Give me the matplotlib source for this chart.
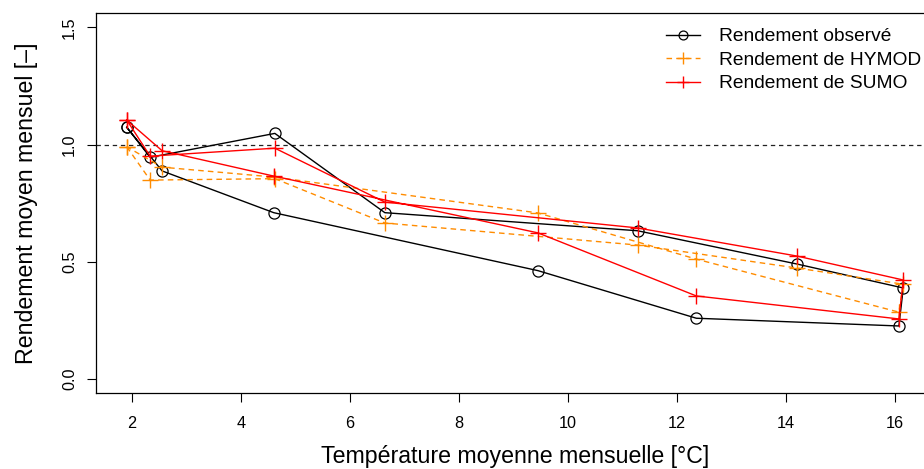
import numpy as np
import matplotlib
matplotlib.use("Agg")
import matplotlib.pyplot as plt

plt.rcParams['font.family'] = ['Liberation Sans', 'DejaVu Sans']

# Monthly means (Jan..Dec)
temperature = [1.90, 2.33, 4.62, 6.64, 11.28, 14.21, 16.16, 16.08, 12.36, 9.45, 4.60, 2.55]
rend_obs = [1.074, 0.946, 1.048, 0.710, 0.633, 0.491, 0.389, 0.227, 0.260, 0.463, 0.710, 0.888]
rend_hymod = [0.991, 0.849, 0.855, 0.666, 0.572, 0.474, 0.405, 0.286, 0.512, 0.709, 0.862, 0.904]
rend_sumo = [1.105, 0.951, 0.985, 0.755, 0.645, 0.525, 0.423, 0.257, 0.355, 0.624, 0.866, 0.974]
labels = ["Rendement observé", "Rendement de HYMOD", "Rendement de SUMO"]
x_ticks = [2, 4, 6, 8, 10, 12, 14, 16]
y_ticks = [0.0, 0.5, 1.0, 1.5]

W, H = 924, 469
fig = plt.figure(figsize=(W / 100, H / 100), dpi=100)

left_px, right_px, top_px, bot_px = 95.7, 934.3, 13.3, 393.3
ax = fig.add_axes([left_px / W, 1 - bot_px / H, (right_px - left_px) / W, (bot_px - top_px) / H])

def closed(v):
    return np.append(v, v[0])

t = closed(temperature)
ax.axhline(1.0, color='#222222', lw=0.9, linestyle=(0, (3.5, 3)), zorder=1)
ax.plot(t, closed(rend_obs), color='black', lw=1.0, marker='o', markersize=8,
        markerfacecolor='none', markeredgewidth=0.9, label=labels[0], zorder=2)
ax.plot(t, closed(rend_hymod), color='#FF8C00', lw=1.0, linestyle=(0, (4, 3)), marker='+',
        markersize=11, markeredgewidth=1.0, label=labels[1], zorder=3)
ax.plot(t, closed(rend_sumo), color='#FF0000', lw=1.0, marker='+', markersize=11,
        markeredgewidth=1.0, label=labels[2], zorder=4)

ax.set_xlim(1.33, 16.73)
ax.set_ylim(-0.06, 1.56)
ax.set_xticks(x_ticks)
ax.set_xticklabels([str(v) for v in x_ticks])
ax.set_yticks(y_ticks)
ax.set_yticklabels([f"{v:.1f}" for v in y_ticks], rotation=90, va='center')
ax.tick_params(axis='both', direction='out', length=6.5, width=0.8, labelsize=11.7, colors='black')
ax.tick_params(axis='x', pad=10)
ax.tick_params(axis='y', pad=7)
for s in ax.spines.values():
    s.set_linewidth(0.9)
    s.set_color('black')

fig.text(515 / W, 1 - 456 / H, "Température moyenne mensuelle [°C]", ha='center', va='center', fontsize=16.7)
fig.text(27 / W, 1 - 203 / H, "Rendement moyen mensuel [–]", ha='center', va='center', rotation=90, fontsize=16.7)

leg = ax.legend(loc='upper left', bbox_to_anchor=(666 / W, 1 - 28 / H), bbox_transform=fig.transFigure,
                frameon=False, fontsize=13.75, handlelength=1.8, handletextpad=1.0,
                labelspacing=0.32, borderpad=0, borderaxespad=0, markerscale=0.8)

fig.savefig("out.png", dpi=100)
